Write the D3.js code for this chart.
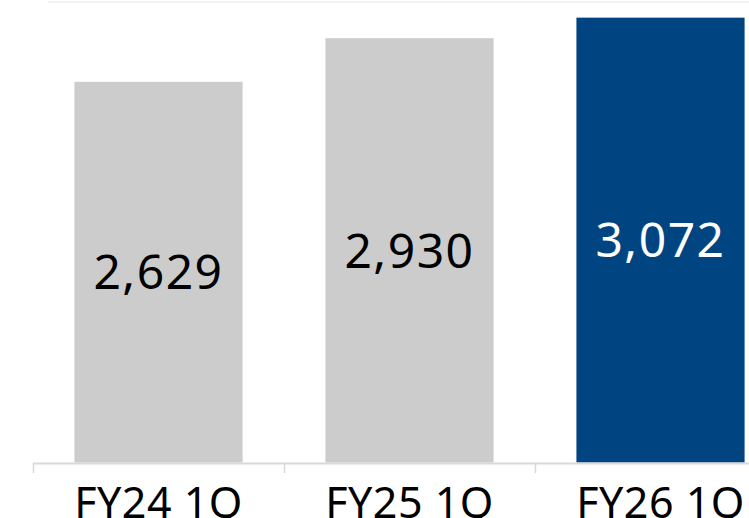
<!DOCTYPE html>
<html>
<head>
<meta charset="utf-8">
<script src="https://cdn.jsdelivr.net/npm/d3@7"></script>
<style>
  html, body { margin: 0; padding: 0; background: #fff; }
  svg { display: block; }
</style>
</head>
<body>
<div id="chart"></div>
<script>
  const categories = ['FY24 1Q', 'FY25 1Q', 'FY26 1Q']
  const values = [2629, 2930, 3072]
  const barColors = ['#cccccc', '#cccccc', '#004582']
  const labelColors = ['#000000', '#000000', '#ffffff']

  const width = 749
  const height = 518
  const baseY = 462.5

  const svg = d3.select('#chart').append('svg')
    .attr('width', width)
    .attr('height', height)

  const x = d3.scaleBand()
    .domain(categories)
    .range([33, 33 + 251 * 3])
    .paddingInner(0.33)
    .paddingOuter(0.165)

  const y = d3.scaleLinear()
    .domain([0, 3180])
    .range([baseY, 2])

  // faint top gridline
  svg.append('line')
    .attr('x1', 48).attr('x2', width)
    .attr('y1', y(3180)).attr('y2', y(3180))
    .attr('stroke', '#f3f3f3')
    .attr('stroke-width', 2)

  svg.selectAll('.bar')
    .data(values)
    .enter().append('rect')
      .attr('class', 'bar')
      .attr('x', (d, i) => x(categories[i]))
      .attr('y', d => y(d))
      .attr('width', x.bandwidth())
      .attr('height', d => y(0) - y(d))
      .attr('fill', (d, i) => barColors[i])

  svg.selectAll('.val')
    .data(values)
    .enter().append('text')
      .attr('class', 'val')
      .attr('x', (d, i) => x(categories[i]) + x.bandwidth() / 2)
      .attr('y', d => (y(d) + y(0)) / 2)
      .attr('dy', '0.36em')
      .attr('text-anchor', 'middle')
      .attr('font-family', '"Noto Sans", sans-serif')
      .attr('font-size', 48)
      .attr('letter-spacing', 1.5)
      .attr('fill', (d, i) => labelColors[i])
      .text(d => d3.format(',')(d))

  // axis
  const axis = svg.append('g')
  axis.append('line')
    .attr('x1', 33).attr('x2', width)
    .attr('y1', 463.5).attr('y2', 463.5)
    .attr('stroke', '#d9d9d9')
    .attr('stroke-width', 2)
  const step = x.step()
  axis.selectAll('.tick')
    .data(d3.range(categories.length))
    .enter().append('line')
      .attr('x1', i => 33.5 + i * step)
      .attr('x2', i => 33.5 + i * step)
      .attr('y1', 463).attr('y2', 473)
      .attr('stroke', '#d9d9d9')
      .attr('stroke-width', 1.5)

  axis.selectAll('.cat')
    .data(categories)
    .enter().append('text')
      .attr('class', 'cat')
      .attr('x', d => x(d) + x.bandwidth() / 2)
      .attr('y', 518)
      .attr('text-anchor', 'middle')
      .attr('font-family', '"Noto Sans", sans-serif')
      .attr('font-size', 43)
      .attr('letter-spacing', 0.5)
      .attr('fill', '#000')
      .text(d => d)
</script>
</body>
</html>
